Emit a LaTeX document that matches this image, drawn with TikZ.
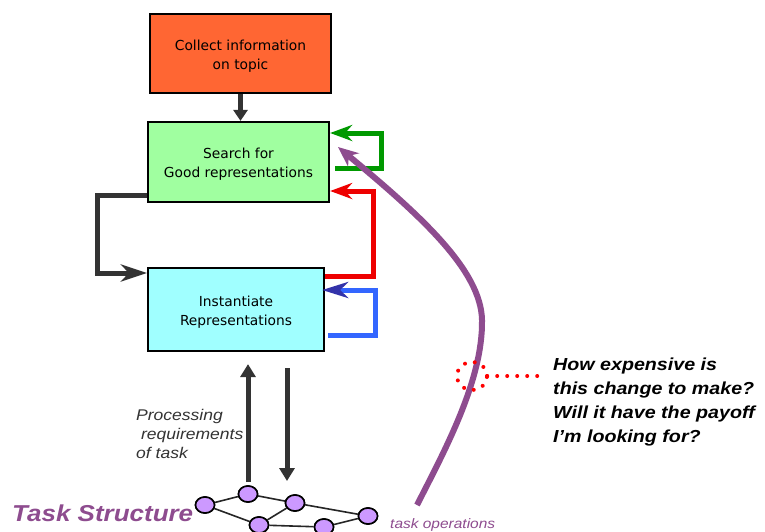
\documentclass[tikz,border=0pt]{standalone}
\usepackage{fontspec}
\setmainfont{DejaVu Sans}
\newfontfamily\arialx[FakeStretch=1.13]{Liberation Sans}
\usetikzlibrary{arrows.meta,shapes.geometric,calc}
\definecolor{boxorange}{HTML}{FF6633}
\definecolor{boxgreen}{HTML}{A0FFA0}
\definecolor{boxcyan}{HTML}{A0FFFF}
\definecolor{loopgreen}{HTML}{009900}
\definecolor{loopred}{HTML}{EE0000}
\definecolor{loopblue}{HTML}{3366FF}
\definecolor{headblue}{HTML}{3333AA}
\definecolor{taskpurple}{HTML}{8E4C8F}
\definecolor{gfill}{HTML}{CC99FF}
\definecolor{dark}{HTML}{333333}
\begin{document}
\begin{tikzpicture}[x=1pt,y=-1pt,
  box/.style={draw=black, line width=2.2pt, align=center, inner sep=0pt,
    font=\fontsize{13.8}{19}\selectfont},
  barb/.style={-{Stealth[length=22pt,width=16pt,inset=7pt]}},
  loopline/.style={line width=5pt, barb},
  darrow/.style={draw=dark, line width=5pt, -{Triangle[length=13pt,width=15pt]}},
  gnode/.style={ellipse, draw=black, fill=gfill, line width=1.6pt, minimum width=19pt, minimum height=16pt, inner sep=0pt},
  gedge/.style={draw=black!85, line width=1.6pt},
  reddots/.style={draw=red, line width=4pt, line cap=round, dash pattern=on 0pt off 10pt}
]
\useasboundingbox (0,0) rectangle (765,531);
\clip (0,0) rectangle (765,531);
\fill[white] (0,0) rectangle (765,531);

% boxes
\node[box, fill=boxorange, minimum width=181pt, minimum height=79pt] (collect) at (240.5,53.5) {\rule{0pt}{16pt}Collect information\\on topic};
\node[box, fill=boxgreen, minimum width=181pt, minimum height=80pt] (search) at (238.5,162) {\rule{0pt}{15pt}Search for\\Good representations};
\node[box, fill=boxcyan, minimum width=176pt, minimum height=83pt] (inst) at (236,309.5) {\rule{0pt}{16.5pt}Instantiate\\Representations};

% collect -> search
\draw[darrow, -{Triangle[length=11pt,width=14pt]}] (collect.south) -- (collect.south |- search.north);

% black loop
\draw[line width=5pt, draw=dark, -{Stealth[length=26pt,width=17pt,inset=8pt]}] (search.west |- 0,195) -- (97,195) -- (97,273) -- (inst.west |- 0,273);
% green loop
\draw[loopline, draw=loopgreen] ([xshift=5pt]search.east |- 0,168) -- (381,168) -- (381,133) -- (search.east |- 0,133);
% red loop
\draw[loopline, draw=loopred] (inst.east |- 0,276) -- (373,276) -- (373,191) -- (search.east |- 0,191);
% blue loop
\draw[line width=5pt, draw=loopblue, -{Stealth[length=26pt,width=16pt,inset=8pt,color=headblue]}] ([xshift=3pt]inst.east |- 0,335) -- (375,335) -- (375,290) -- ([xshift=-3pt]inst.east |- 0,290);

% purple task-operations curve
\coordinate (opstart) at (417,505);
\coordinate (optip) at (338,147);
\draw[draw=taskpurple, line width=6pt, -{Stealth[length=20pt,width=17pt,inset=6pt]}]
  (opstart) .. controls (445,450) and (483,380) .. (482,320)
  .. controls (481,270) and (420,215) .. (optip);

% red dotted focus
\node[ellipse, minimum width=30pt, minimum height=28pt, inner sep=0pt] (focus) at (472,376) {};
\draw[reddots] (focus.center) ellipse [x radius=15pt, y radius=14pt];

% question
\node[anchor=west, align=left, inner sep=0pt, font=\arialx\bfseries\itshape\fontsize{17.4}{23.7}\selectfont] (q) at (553,402)
  {How expensive is\\this change to make?\\Will it have the payoff\\I’m looking for?};
\draw[reddots] (focus.east) -- ([xshift=-14pt]q.west |- focus.east);

% graph
\node[gnode] (n1) at (205,505) {};
\node[gnode] (n2) at (248,494) {};
\node[gnode] (n3) at (295,503) {};
\node[gnode] (n4) at (368,516) {};
\node[gnode] (n5) at (259,525) {};
\node[gnode] (n6) at (324,527) {};
\draw[gedge] (n1) -- (n2);
\draw[gedge] (n2) -- (n3);
\draw[gedge] (n1) -- (n5);
\draw[gedge] (n3) -- (n5);
\draw[gedge] (n3) -- (n4);
\draw[gedge] (n5) -- (n6);
\draw[gedge] (n6) -- (n4);
\foreach \n in {n1,n2,n3,n4,n5,n6} \node[gnode] at (\n) {};

% vertical arrows
\draw[darrow, shorten <=3pt, shorten >=12pt] (n2.north) -- (n2.north |- inst.south);
\draw[darrow, shorten <=16pt, shorten >=2pt] ([xshift=51pt]inst.south) -- ([xshift=51pt]inst.south |- 0,483);

% labels
\node[anchor=north west, align=left, inner sep=0pt, text=dark, font=\arialx\itshape\fontsize{15.5}{19}\selectfont] (proc) at (136,409)
  {Processing\\\ requirements\\of task};
\node[anchor=base west, inner sep=0pt, text=taskpurple, font=\arialx\bfseries\itshape\fontsize{23}{26}\selectfont] (ts) at (12,521) {Task Structure};
\node[anchor=base west, inner sep=0pt, text=taskpurple, font=\arialx\itshape\fontsize{13.7}{16}\selectfont] (tops) at (390,528) {task operations};
\end{tikzpicture}
\end{document}
